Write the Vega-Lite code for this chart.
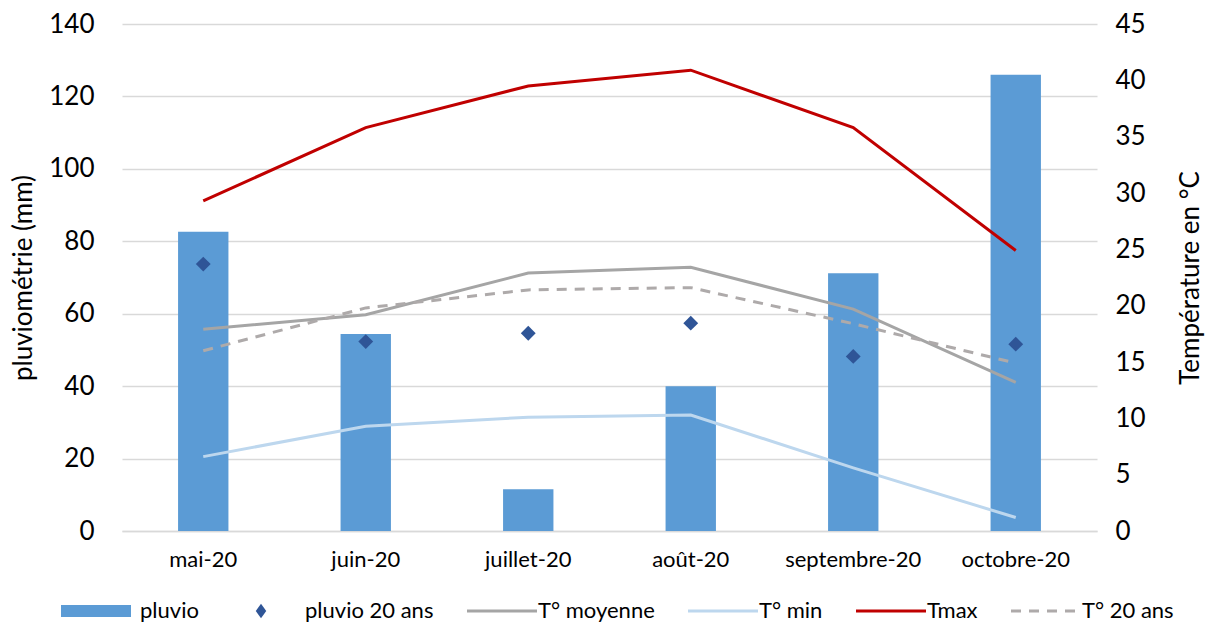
{
  "$schema": "https://vega.github.io/schema/vega-lite/v6.json",
  "width": 975,
  "height": 507,
  "autosize": {"type": "none"},
  "padding": {"left": 122, "top": 24, "right": 110, "bottom": 92},
  "background": "white",
  "config": {
    "font": "Lato",
    "view": {"stroke": null},
    "axis": {"labelFont": "Lato", "titleFont": "Lato", "labelColor": "#000", "titleColor": "#000", "titleFontWeight": "normal"},
    "legend": {"labelFont": "Lato"}
  },
  "data": {
    "values": [
      {"mois": "mai-20", "series": "pluvio", "value": 82.6},
      {"mois": "juin-20", "series": "pluvio", "value": 54.4},
      {"mois": "juillet-20", "series": "pluvio", "value": 11.5},
      {"mois": "août-20", "series": "pluvio", "value": 40.0},
      {"mois": "septembre-20", "series": "pluvio", "value": 71.2},
      {"mois": "octobre-20", "series": "pluvio", "value": 126.0},
      {"mois": "mai-20", "series": "pluvio 20 ans", "value": 73.7},
      {"mois": "juin-20", "series": "pluvio 20 ans", "value": 52.3},
      {"mois": "juillet-20", "series": "pluvio 20 ans", "value": 54.6},
      {"mois": "août-20", "series": "pluvio 20 ans", "value": 57.4},
      {"mois": "septembre-20", "series": "pluvio 20 ans", "value": 48.2},
      {"mois": "octobre-20", "series": "pluvio 20 ans", "value": 51.6},
      {"mois": "mai-20", "series": "T° moyenne", "value": 17.9},
      {"mois": "juin-20", "series": "T° moyenne", "value": 19.2},
      {"mois": "juillet-20", "series": "T° moyenne", "value": 22.9},
      {"mois": "août-20", "series": "T° moyenne", "value": 23.4},
      {"mois": "septembre-20", "series": "T° moyenne", "value": 19.7},
      {"mois": "octobre-20", "series": "T° moyenne", "value": 13.2},
      {"mois": "mai-20", "series": "T° min", "value": 6.6},
      {"mois": "juin-20", "series": "T° min", "value": 9.3},
      {"mois": "juillet-20", "series": "T° min", "value": 10.1},
      {"mois": "août-20", "series": "T° min", "value": 10.3},
      {"mois": "septembre-20", "series": "T° min", "value": 5.6},
      {"mois": "octobre-20", "series": "T° min", "value": 1.2},
      {"mois": "mai-20", "series": "Tmax", "value": 29.3},
      {"mois": "juin-20", "series": "Tmax", "value": 35.8},
      {"mois": "juillet-20", "series": "Tmax", "value": 39.5},
      {"mois": "août-20", "series": "Tmax", "value": 40.9},
      {"mois": "septembre-20", "series": "Tmax", "value": 35.8},
      {"mois": "octobre-20", "series": "Tmax", "value": 24.9},
      {"mois": "mai-20", "series": "T° 20 ans", "value": 16.0},
      {"mois": "juin-20", "series": "T° 20 ans", "value": 19.8},
      {"mois": "juillet-20", "series": "T° 20 ans", "value": 21.4},
      {"mois": "août-20", "series": "T° 20 ans", "value": 21.6},
      {"mois": "septembre-20", "series": "T° 20 ans", "value": 18.4},
      {"mois": "octobre-20", "series": "T° 20 ans", "value": 14.9}
    ]
  },
  "encoding": {
    "x": {
      "field": "mois",
      "type": "nominal",
      "sort": ["mai-20", "juin-20", "juillet-20", "août-20", "septembre-20", "octobre-20"],
      "scale": {"type": "band", "paddingInner": 0.69, "paddingOuter": 0.345},
      "axis": {"title": null, "labelAngle": 0, "labelFontSize": 22, "labelPadding": 18, "ticks": false, "domainColor": "#d9d9d9", "domainWidth": 1.5, "grid": false}
    },
    "color": {
      "field": "series",
      "type": "nominal",
      "scale": {
        "domain": ["pluvio", "pluvio 20 ans", "T° moyenne", "T° min", "Tmax", "T° 20 ans"],
        "range": ["#5b9bd5", "#2f5597", "#a5a5a5", "#bdd7ee", "#c00000", "#aeaaaa"]
      },
      "legend": {
        "title": null,
        "orient": "none",
        "direction": "horizontal",
        "legendX": -37,
        "legendY": 576,
        "symbolSize": 4900,
        "labelFontSize": 22,
        "labelOffset": 33,
        "columnPadding": 27,
        "labelColor": "#000",
        "encode": {
          "symbols": {
            "update": {
              "shape": {"signal": "datum.value == 'pluvio' ? 'M-1,-0.17H1V0.17H-1Z' : datum.value == 'pluvio 20 ans' ? 'M-1,0M1,0M0,-0.21L0.15,0L0,0.21L-0.15,0Z' : 'stroke'"},
              "strokeWidth": {"signal": "datum.value == 'pluvio' || datum.value == 'pluvio 20 ans' ? 0 : 3"},
              "strokeDash": {"signal": "datum.value == 'T° 20 ans' ? [10, 8] : []"},
              "fill": {"signal": "scale('color', datum.value)"},
              "stroke": {"signal": "scale('color', datum.value)"},
              "opacity": {"value": 1}
            }
          },
          "labels": {
            "update": {
              "dx": {"signal": "datum.value == 'pluvio' || datum.value == 'pluvio 20 ans' ? 0 : -8"}
            }
          }
        }
      }
    }
  },
  "layer": [
    {
      "layer": [
        {
          "transform": [{"filter": "datum.series == 'pluvio'"}],
          "mark": {"type": "bar"},
          "encoding": {
            "y": {
              "field": "value",
              "type": "quantitative",
              "scale": {"domain": [0, 140], "nice": false},
              "axis": {"title": "pluviométrie (mm)", "titleFontSize": 26, "titlePadding": 12, "values": [0, 20, 40, 60, 80, 100, 120, 140], "labelFontSize": 26, "labelPadding": 28, "ticks": false, "domain": false, "grid": true, "gridColor": "#d9d9d9", "gridWidth": 1.5}
            }
          }
        },
        {
          "transform": [{"filter": "datum.series == 'pluvio 20 ans'"}],
          "mark": {"type": "point", "shape": "diamond", "filled": true, "size": 220, "opacity": 1},
          "encoding": {
            "y": {"field": "value", "type": "quantitative"}
          }
        }
      ]
    },
    {
      "layer": [
        {
          "transform": [{"filter": "datum.series == 'T° moyenne' || datum.series == 'T° min' || datum.series == 'Tmax'"}],
          "mark": {"type": "line", "strokeWidth": 3},
          "encoding": {
            "y": {
              "field": "value",
              "type": "quantitative",
              "scale": {"domain": [0, 45], "nice": false},
              "axis": {"orient": "right", "title": "Température en °C", "titleFontSize": 26, "titleAngle": 270, "titleBaseline": "top", "titlePadding": 32, "values": [0, 5, 10, 15, 20, 25, 30, 35, 40, 45], "labelFontSize": 26, "labelPadding": 18, "ticks": false, "domain": false, "grid": false}
            }
          }
        },
        {
          "transform": [{"filter": "datum.series == 'T° 20 ans'"}],
          "mark": {"type": "line", "strokeWidth": 3, "strokeDash": [10, 8]},
          "encoding": {
            "y": {"field": "value", "type": "quantitative"}
          }
        }
      ]
    }
  ],
  "resolve": {"scale": {"y": "independent"}}
}
